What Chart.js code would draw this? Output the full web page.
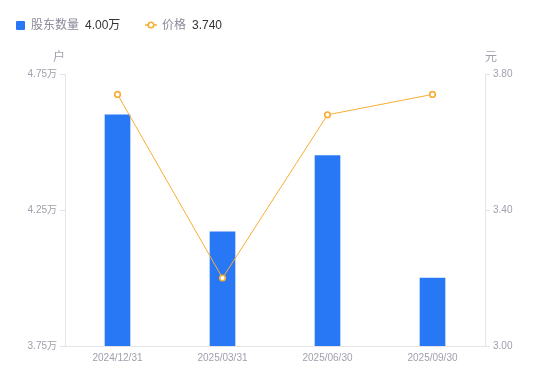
<!DOCTYPE html>
<html>
<head>
<meta charset="utf-8">
<script src="https://cdn.jsdelivr.net/npm/chart.js@4/dist/chart.umd.min.js"></script>
<style>
  html, body { margin: 0; padding: 0; background: #fff; }
  #wrap { position: relative; width: 550px; height: 381px; font-family: 'Liberation Sans', 'Noto Sans CJK SC', sans-serif; }
  #legend { position: absolute; left: 0; top: 0; width: 550px; height: 40px; font-size: 12px; }
  .lg { position: absolute; top: 18px; line-height: 14px; white-space: nowrap; }
  .lbl { color: #8a8a99; }
  .val { color: #333; margin-left: 6px; }
  canvas { position: absolute; left: 0; top: 0; }
</style>
</head>
<body>
<div id="wrap">
  <canvas id="chart" width="550" height="381"></canvas>
  <div id="legend"></div>
</div>
<script>
const categories = ['2024/12/31', '2025/03/31', '2025/06/30', '2025/09/30'];
const holders = [4.60, 4.17, 4.45, 4.00];   // 股东数量, 万户
const prices = [3.74, 3.20, 3.68, 3.74];    // 价格, 元
const leftTicks = [3.75, 4.25, 4.75];
const rightTicks = [3.00, 3.40, 3.80];

const BLUE = '#2878f5';
const ORANGE = '#f8ad34';
const GRAY = '#a0a0ad';
const LINE = '#e3e3e8';
const FONT = "'Liberation Sans', 'Noto Sans CJK SC', sans-serif";

// legend (html)
const legend = document.getElementById('legend');
legend.innerHTML =
  '<div class="lg" style="left:16px"><span style="display:inline-block;width:9px;height:9px;background:' + BLUE + ';border-radius:1px;vertical-align:-1px;margin-right:6px"></span>' +
  '<span class="lbl">股东数量</span><span class="val">' + holders[holders.length - 1].toFixed(2) + '万</span></div>' +
  '<div class="lg" style="left:145px"><svg width="12" height="10" style="vertical-align:-1px;margin-right:5px"><line x1="0" y1="5" x2="12" y2="5" stroke="' + ORANGE + '" stroke-width="1.5"/><circle cx="6" cy="5" r="2.8" fill="#fff" stroke="' + ORANGE + '" stroke-width="1.6"/></svg>' +
  '<span class="lbl">价格</span><span class="val">' + prices[prices.length - 1].toFixed(3) + '</span></div>';

// axis unit titles
const unitTitles = {
  id: 'unitTitles',
  afterDraw(chart) {
    const { ctx, chartArea } = chart;
    ctx.save();
    ctx.font = '12px ' + FONT;
    ctx.fillStyle = GRAY;
    ctx.textAlign = 'center';
    ctx.textBaseline = 'middle';
    ctx.fillText('户', chartArea.left - 6, chartArea.top - 16);
    ctx.fillText('元', chartArea.right + 6, chartArea.top - 16);
    ctx.restore();
  }
};

new Chart(document.getElementById('chart'), {
  data: {
    labels: categories,
    datasets: [
      {
        type: 'line',
        label: '价格',
        data: prices,
        yAxisID: 'y1',
        order: 0,
        borderColor: ORANGE,
        borderWidth: 1,
        pointRadius: 2.8,
        pointBorderWidth: 1.6,
        pointBackgroundColor: '#fff',
        pointBorderColor: ORANGE,
        tension: 0
      },
      {
        type: 'bar',
        label: '股东数量',
        data: holders,
        yAxisID: 'y',
        order: 1,
        backgroundColor: BLUE,
        barThickness: 25
      }
    ]
  },
  options: {
    responsive: false,
    animation: false,
    layout: { padding: { top: 74, left: 0, right: 0, bottom: 0 } },
    plugins: { legend: { display: false }, tooltip: { enabled: false } },
    scales: {
      x: {
        grid: { display: false, drawTicks: false },
        border: { color: LINE },
        ticks: { color: GRAY, font: { size: 10, family: FONT }, padding: 6, maxRotation: 0 },
        afterFit(s) { s.height = 35; }
      },
      y: {
        position: 'left',
        min: 3.75, max: 4.75,
        grid: { drawOnChartArea: false, tickLength: 5, color: LINE },
        border: { color: LINE },
        ticks: { color: GRAY, font: { size: 10, family: FONT }, padding: 3, callback: v => v.toFixed(2) + '万' },
        afterBuildTicks(s) { s.ticks = leftTicks.map(v => ({ value: v })); },
        afterFit(s) { s.width = 65; }
      },
      y1: {
        position: 'right',
        min: 3.00, max: 3.80,
        grid: { drawOnChartArea: false, tickLength: 5, color: LINE },
        border: { color: LINE },
        ticks: { color: GRAY, font: { size: 10, family: FONT }, padding: 3, callback: v => v.toFixed(2) },
        afterBuildTicks(s) { s.ticks = rightTicks.map(v => ({ value: v })); },
        afterFit(s) { s.width = 65; }
      }
    }
  },
  plugins: [unitTitles]
});
</script>
</body>
</html>
